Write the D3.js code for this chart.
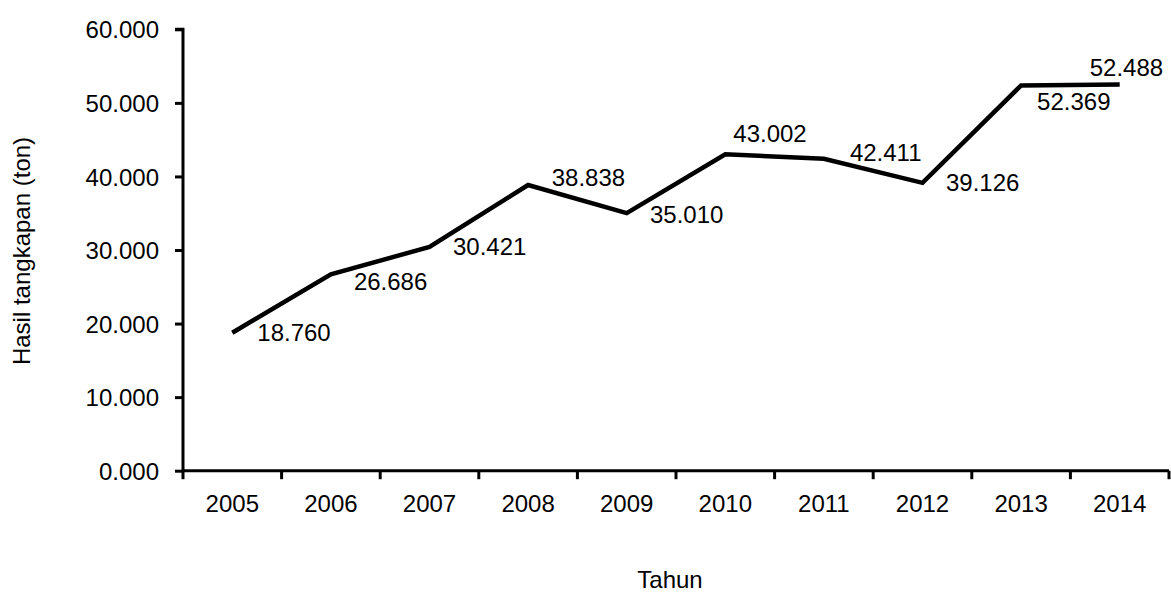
<!DOCTYPE html>
<html>
<head>
<meta charset="utf-8">
<script src="https://cdn.jsdelivr.net/npm/d3@7"></script>
<style>
  html, body { margin: 0; padding: 0; background: #fff; }
  svg text { font-family: "Liberation Sans", Arial, sans-serif; fill: #000; }
</style>
</head>
<body>
<svg id="chart" width="1171" height="592"></svg>
<script>
// ---- data ----
const years = ["2005","2006","2007","2008","2009","2010","2011","2012","2013","2014"];
const catch_ = [18760, 26686, 30421, 38838, 35010, 43002, 42411, 39126, 52369, 52488];
const valueLabels = ["18.760","26.686","30.421","38.838","35.010","43.002","42.411","39.126","52.369","52.488"];
const yTickValues = [0, 10000, 20000, 30000, 40000, 50000, 60000];
const yTickLabels = ["0.000","10.000","20.000","30.000","40.000","50.000","60.000"];
const xTitle = "Tahun";
const yTitle = "Hasil tangkapan (ton)";

// ---- layout (label placement relative to each point: start-x offset, vertical centre offset) ----
const labelPlacement = [[25,0],[23,7],[23.5,0],[23.6,-8],[23.3,1],[8,-20.7],[26,-6],[23.5,0],[16,16],[-30,-17]];

const FS = 24;
const svg = d3.select("#chart");
const x = d3.scaleBand().domain(years).range([183, 1169]);
const y = d3.scaleLinear().domain([0, 60000]).range([470.7, 29.3]);

// y axis
const yAxis = svg.append("g").attr("transform", "translate(183,0)")
  .call(d3.axisLeft(y).tickValues(yTickValues).tickSize(8).tickPadding(16)
    .tickFormat((d, i) => yTickLabels[i]));
yAxis.select(".domain").attr("stroke", "#000").attr("stroke-width", 3)
  .attr("d", `M-8,${y(60000)}H0V${y(0)}`);
yAxis.selectAll(".tick line").attr("stroke", "#000").attr("stroke-width", 3);
yAxis.selectAll(".tick text").attr("font-size", FS).attr("font-family", '"Liberation Sans", Arial, sans-serif')
  .attr("fill", "#000").attr("dy", "0.36em");

// x axis (labels at band centres, tick marks at band edges)
const xAxis = svg.append("g").attr("transform", `translate(0,${y(0)})`)
  .call(d3.axisBottom(x).tickSize(0).tickPadding(0));
xAxis.select(".domain").attr("stroke", "#000").attr("stroke-width", 3)
  .attr("d", `M${x.range()[0]},0H${x.range()[1]}`);
xAxis.selectAll(".tick text").attr("font-size", FS).attr("font-family", '"Liberation Sans", Arial, sans-serif')
  .attr("fill", "#000").attr("y", 41).attr("dy", 0);
const edges = years.map(d => x(d)).concat([x.range()[1]]);
xAxis.selectAll("line.edge").data(edges).join("line").attr("class", "edge")
  .attr("x1", d => d).attr("x2", d => d).attr("y1", 0).attr("y2", 8.5)
  .attr("stroke", "#000").attr("stroke-width", 3);

// line
const pts = years.map((d, i) => [x(d) + x.bandwidth() / 2, y(catch_[i])]);
svg.append("path").datum(pts)
  .attr("d", d3.line())
  .attr("fill", "none").attr("stroke", "#000").attr("stroke-width", 4.5)
  .attr("stroke-linejoin", "miter");

// data labels
svg.append("g").selectAll("text").data(pts).join("text")
  .attr("x", (p, i) => p[0] + labelPlacement[i][0])
  .attr("y", (p, i) => p[1] + labelPlacement[i][1] + 0.358 * FS)
  .attr("font-size", FS)
  .text((p, i) => valueLabels[i]);

// titles
svg.append("text").attr("x", 670).attr("y", 588).attr("text-anchor", "middle")
  .attr("font-size", FS).text(xTitle);
svg.append("text").attr("transform", "translate(30,251) rotate(-90)")
  .attr("text-anchor", "middle").attr("font-size", FS).text(yTitle);
</script>
</body>
</html>
